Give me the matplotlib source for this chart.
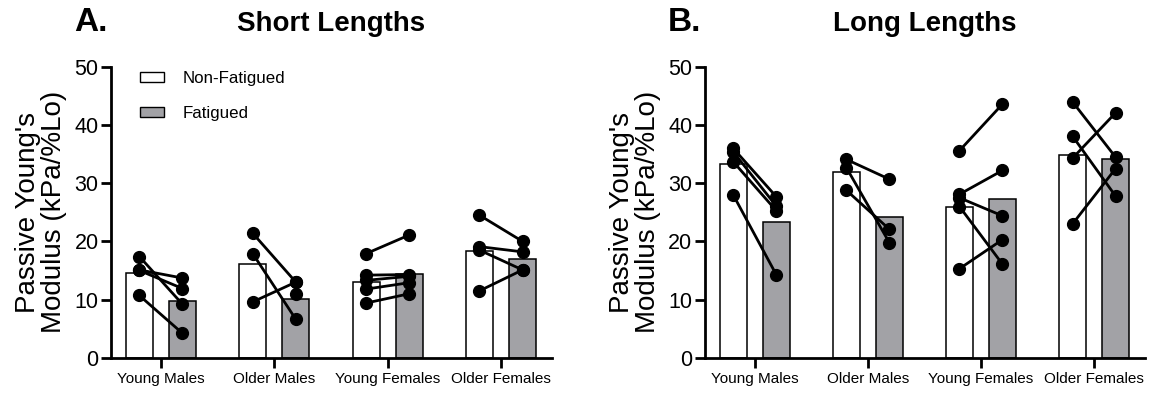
import numpy as np
import matplotlib
matplotlib.use('Agg')
import matplotlib.pyplot as plt
from matplotlib.patches import Patch

plt.rcParams['font.family'] = ['Liberation Sans', 'DejaVu Sans']

groups = ['Young Males', 'Older Males', 'Young Females', 'Older Females']

# bar heights (group means)
short_nf_bar = [14.6, 16.2, 13.0, 18.4]
short_f_bar = [9.8, 10.1, 14.4, 17.0]
long_nf_bar = [33.3, 31.9, 26.0, 34.9]
long_f_bar = [23.4, 24.2, 27.3, 34.2]

# individual subjects (non-fatigued -> fatigued)
short_nf = [
    [17.4, 15.1, 15.0, 10.7],
    [21.4, 17.9, 9.6, np.nan],
    [17.9, 14.2, 13.3, 11.8, 9.4],
    [24.5, 19.1, 18.5, 11.5],
]
short_f = [
    [9.2, 13.7, 11.9, 4.2],
    [13.0, 6.6, 13.0, 11.0],
    [21.1, 14.3, 14.0, 12.9, 11.0],
    [20.0, 18.2, 15.1, 15.1],
]
long_nf = [
    [36.0, 35.4, 33.7, 28.0],
    [34.1, 32.7, 28.8],
    [35.6, 28.1, 27.5, 26.0, 15.3],
    [44.0, 38.1, 34.3, 23.0],
]
long_f = [
    [27.7, 26.1, 25.3, 14.3],
    [30.7, 19.8, 22.1],
    [43.6, 32.2, 24.4, 16.1, 20.3],
    [34.5, 27.8, 42.1, 32.5],
]

gray = '#a2a2a6'
off = 0.19
bw = 0.24

fig = plt.figure(figsize=(11.53, 3.94), dpi=100)
axA = fig.add_axes([0.0963, 0.0921, 0.3825, 0.738])
axB = fig.add_axes([0.6114, 0.0921, 0.3816, 0.738])


def panel(ax, nf_bar, f_bar, nf, f, title, letter, letter_x):
    x = np.arange(len(groups))
    ax.bar(x - off, nf_bar, bw, color='white', edgecolor='black', linewidth=1.1, zorder=1)
    ax.bar(x + off, f_bar, bw, color=gray, edgecolor='black', linewidth=1.1, zorder=1)
    for i in range(len(groups)):
        for a, b in zip(nf[i], f[i]):
            ax.plot([i - off, i + off], [a, b], color='black', lw=2, zorder=3)
            ax.plot([i - off, i + off], [a, b], 'o', color='black', ms=8.5, zorder=4)
    ax.set_ylim(0, 50)
    ax.set_yticks([0, 10, 20, 30, 40, 50])
    ax.set_xlim(-0.44, 3.45)
    ax.set_xticks(x)
    ax.set_xticklabels(groups, fontsize=11)
    ax.tick_params(axis='y', labelsize=15.5, width=2, length=7, pad=2)
    ax.tick_params(axis='x', width=2, length=7, pad=3)
    for s in ['top', 'right']:
        ax.spines[s].set_visible(False)
    for s in ['left', 'bottom']:
        ax.spines[s].set_linewidth(2)
    ax.set_ylabel("Passive Young's\nModulus (kPa/%Lo)", fontsize=20, linespacing=1.0, labelpad=5)
    ax.set_title(title, fontsize=20, fontweight='bold', pad=26)
    fig.text(letter_x, 0.944, letter, fontsize=24, fontweight='bold', va='center')


panel(axA, short_nf_bar, short_f_bar, short_nf, short_f, 'Short Lengths', 'A.', 0.064)
panel(axB, long_nf_bar, long_f_bar, long_nf, long_f, 'Long Lengths', 'B.', 0.579)

handles = [Patch(facecolor='white', edgecolor='black', linewidth=1.0),
           Patch(facecolor=gray, edgecolor='black', linewidth=1.0)]
axA.legend(handles, ['Non-Fatigued', 'Fatigued'], loc='upper left',
           bbox_to_anchor=(0.066, 0.985), frameon=False, fontsize=12.2,
           handlelength=1.4, handleheight=0.55, handletextpad=1.1,
           labelspacing=1.15, borderpad=0, borderaxespad=0)

fig.savefig('out.png', dpi=100)
